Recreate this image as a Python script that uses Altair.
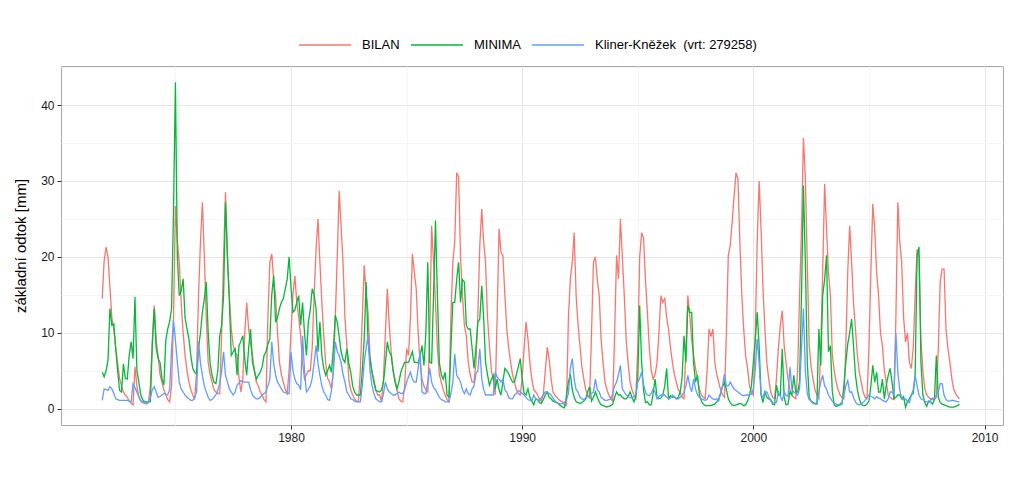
import altair as alt
import pandas as pd

# first month of the series: November 1971 (hydrological year start)
START_YEAR = 1971
START_MONTH = 11

SERIES = ["BILAN", "MINIMA", "Kliner-Kněžek\u00a0 (vrt: 279258)"]
COLORS = ["#F8766D", "#00BA38", "#619CFF"]

bilan = [
    14.5, 19.5, 21.3, 20, 16, 12, 10.5, 8, 6, 4, 3, 2.2,
    1.8, 1.5, 1, 0.7, 0.5, 5.5, 3, 1.5, 1, 0.8, 0.7, 0.6,
    0.8, 3, 9, 13.6, 9, 7, 4.5, 3.5, 2.5, 1.8, 1.2, 0.9,
    3, 12, 26.7, 22, 19.3, 14, 10, 7, 5, 3.5, 2.5, 1.8,
    1.2, 5, 15, 22, 27.2, 20, 12, 6.1, 4.5, 3.5, 2.5, 2.2,
    2, 2, 10, 20, 28.5, 20, 14.9, 10.5, 8.3, 7.5, 7, 4,
    2.2, 4, 10, 14, 10.5, 8.5, 7, 5, 3.5, 3, 2.2, 1.8,
    1.2, 0.9, 12, 19.3, 20.4, 17, 14.9, 10, 6.1, 4.5, 3.5, 2.5,
    2, 5, 10, 15, 17.5, 14, 12, 9.6, 6, 3.9, 4.5, 5,
    5, 8, 15, 21, 25, 19.3, 14, 9.6, 6, 4, 3.5, 2.6,
    5, 12, 20, 28.7, 24, 19.3, 12, 8.3, 3.9, 2.5, 1.8, 1.3,
    1, 0.9, 5, 12, 18.9, 15, 12.7, 7, 5, 3.9, 2.5, 1.8,
    1.8, 0.9, 4, 10, 15.8, 11, 7.5, 5, 3.9, 2.5, 1.3, 1,
    0.9, 3, 7.9, 7, 12, 20.4, 18, 15.8, 10, 6, 3.9, 3,
    2.5, 2.2, 10, 24.1, 19.3, 14, 8, 4.5, 3.5, 2.5, 1.8, 1.2,
    0.9, 12, 19.3, 22, 31.1, 30.5, 20, 14.9, 11, 9.6, 6.1, 4.5,
    3.5, 3.5, 6, 12.3, 21.5, 26.3, 22, 19.3, 12, 8.3, 5, 3.9,
    1.8, 12, 23.7, 20.6, 20.2, 15, 10.5, 8, 6.1, 4.5, 3.5, 2.5,
    2, 1.8, 4, 8, 11.4, 9.2, 6, 3.9, 2.5, 2.2, 1.8, 1.3,
    1, 2, 5, 8.1, 6.5, 4, 2.2, 1.8, 1.5, 1.2, 1, 0.9,
    0.5, 0.4, 12, 17.1, 19.3, 23.2, 14.9, 11, 8.3, 5.5, 3.9, 2.5,
    1.8, 1.3, 10, 19.3, 20, 17, 14.9, 9, 6, 3.5, 2.5, 1.8,
    1.3, 1, 10, 20.2, 17.1, 25, 20, 14.9, 9, 6, 3.5, 2.5,
    1.8, 1.3, 8, 20, 23.2, 22.5, 17, 12.7, 8, 5, 3.9, 4.5,
    6.1, 10, 14.9, 14, 14.5, 12, 10.5, 8, 6.1, 4.5, 3.5, 2.5,
    2.2, 1.5, 1.3, 8, 14.9, 12.3, 9, 7, 5.3, 4, 2.6, 1.8,
    1.5, 1.3, 5, 10.5, 9.5, 10.5, 6.1, 4.5, 3.5, 2.5, 1.8, 1.5,
    10, 20.2, 21.5, 24.6, 28, 31.1, 30.3, 22, 15, 10.5, 7, 5.3,
    3, 2.2, 1.8, 10, 22, 30, 23.7, 16, 10.5, 6, 3.9, 2.2,
    1.5, 1.3, 4, 8, 11, 12.9, 8.3, 6, 3.9, 2.5, 1.8, 1.5,
    1.3, 5, 15, 23.7, 35.7, 30.3, 19.3, 8.3, 5.5, 3.9, 2.5, 1.8,
    1.3, 8, 18, 29.6, 23.7, 18, 14.9, 7, 5, 3.5, 2.5, 1.8,
    1.5, 1.3, 8, 18, 24.1, 19.3, 14, 10.5, 7, 4.8, 3.5, 2.2,
    1.5, 1.3, 8, 18, 27, 23.7, 18, 14.9, 10, 8.3, 5, 3.5,
    1.8, 1.5, 1.3, 1.2, 12, 27.2, 22, 19.3, 12, 8.8, 10, 6.1,
    5.3, 8, 15, 21, 20, 9, 5, 2.6, 1.8, 1.5, 1.3, 1.2,
    1.2, 1.5, 8, 16.7, 18.4, 18.4, 10.5, 8, 6.1, 4, 2.6, 2,
    1.6, 1.3,
]

minima = [
    4.8, 4.2, 5, 6.4, 13.2, 11, 11.2, 7.9, 5, 2.4, 2.2, 5.9,
    4, 3.9, 7, 8.8, 6.6, 14.7, 5, 3.5, 1.8, 1.2, 0.9, 0.9,
    0.9, 0.9, 8.3, 13.2, 8, 6.6, 6.1, 4, 3.1, 9, 10.5, 11.5,
    13.2, 25.9, 43, 20, 14.9, 15.5, 17.1, 12, 10.5, 9.2, 7, 5.3,
    4.8, 4.6, 8, 10, 12.7, 14.5, 16.7, 10, 6, 4.4, 3.5, 3.3,
    5, 9.6, 11, 14.9, 27.2, 20, 14, 7, 7.5, 7.9, 4.4, 8.3,
    8.9, 9.6, 6.5, 4.4, 8, 10.5, 6.1, 5, 3.9, 4.4, 4.8, 5.5,
    7, 7.5, 8.5, 9.2, 15, 17.5, 11.4, 12, 13.2, 14, 14.5, 15.8,
    17, 20, 16, 12.7, 13, 14, 14.9, 11, 14, 10, 7, 11.4,
    13, 15.8, 15, 13.2, 7.5, 11.4, 7, 5.3, 4.4, 5, 5.7, 4.8,
    8, 12.3, 11.4, 9.5, 7.5, 6.5, 6.1, 7.9, 6, 4.8, 3, 2.2,
    1.8, 1.8, 1.8, 5, 9.2, 16.7, 8.8, 6.5, 4.8, 3.5, 2.4, 2.3,
    2.2, 2.5, 3.5, 6, 8.8, 7.5, 7, 5, 3.5, 2.6, 3.5, 4.8,
    5.5, 6.1, 6.1, 6.1, 6.8, 7.5, 6.1, 6.1, 6, 7, 8.3, 5.7,
    10, 19.3, 6.1, 6, 15, 24.8, 14.9, 6.1, 4.5, 3.9, 4.8, 1.8,
    1.5, 8, 14, 14, 17, 19.3, 14, 17, 16.7, 11, 10.5, 10.5,
    8, 5.3, 8, 11.4, 11.8, 16.2, 12, 6.1, 4.5, 3.1, 3.8, 4.4,
    2.6, 3.9, 2.5, 1.8, 3.5, 5.3, 5, 4.6, 4, 3.5, 3.5, 4.5,
    5.5, 6.6, 4, 2, 1.8, 2.6, 1.5, 1, 0.5, 1.3, 1.2, 0.8,
    0.7, 1.2, 1.8, 2.2, 1.5, 1.3, 1, 0.9, 0.8, 0.6, 0.4, 0.2,
    0.1, 1.8, 3.5, 4.6, 2.5, 1.5, 0.9, 0.8, 0.7, 0.8, 1, 1.3,
    2.2, 2.9, 1, 1.5, 2.2, 1.5, 0.9, 0.5, 0.4, 0.3, 0.2, 0.3,
    0.4, 0.6, 1.5, 2.2, 1.8, 1.8, 1.5, 1.3, 1.3, 1.6, 2.2, 1.5,
    0.9, 1.6, 4, 13.6, 6.1, 2.5, 0.8, 0.9, 0.5, 0.5, 2, 3.9,
    1.5, 1.3, 1.4, 1.8, 3, 5.3, 1.3, 1.7, 1.5, 1.6, 1.3, 1.5,
    2.2, 4, 9.6, 6.1, 13.6, 12.7, 12.7, 6, 3.5, 4.4, 1.8, 1,
    0.6, 0.4, 0.4, 0.4, 0.4, 0.5, 0.6, 0.9, 1.3, 2, 2.9, 3.5,
    2.5, 1.3, 0.8, 0.5, 0.4, 0.5, 0.6, 0.7, 0.6, 0.4, 0.5, 1,
    1.8, 3, 6.1, 9, 12.7, 8.3, 1.8, 0.8, 2.2, 1.5, 1.3, 1.2,
    0.6, 0.5, 3.1, 1.8, 1.8, 7.9, 1.5, 0.5, 0.6, 2.2, 1.8, 4.4,
    2.2, 2.2, 3.5, 14.9, 29.4, 19.3, 6.1, 1.5, 1, 0.8, 0.7, 0.6,
    10.5, 5.7, 14.9, 17, 20.2, 7.5, 8.3, 2.2, 0.5, 0.3, 0.4, 0.5,
    0.6, 3, 6.1, 8.5, 10, 11.8, 8.3, 4.4, 2.5, 1.3, 0.6, 0.4,
    0.4, 0.6, 1, 3, 5.7, 3.5, 4.8, 2.2, 2.2, 3.9, 1.3, 3.1,
    4.4, 5.3, 3.5, 1.3, 1.5, 1.8, 1.8, 1.3, 1.6, 0.2, 0.9, 1.3,
    1.8, 2, 4.4, 20.2, 21.3, 6.1, 1.8, 0.8, 0.3, 1, 0.9, 0.6,
    1.2, 7, 1.5, 0.8, 0.6, 0.5, 0.4, 0.3, 0.2, 0.2, 0.2, 0.3,
    0.4, 0.6,
]

kliner = [
    1.1, 2.6, 2.5, 2.4, 2.9, 2.6, 2, 1.3, 1.2, 1.1, 1.1, 1.1,
    1.1, 1.1, 1, 0.9, 3.3, 2.8, 2.2, 1.6, 1.1, 0.9, 0.7, 0.8,
    0.9, 1.5, 2.5, 2.9, 2.2, 1.5, 1.6, 1.8, 2, 1.9, 1.8, 2.5,
    7.9, 11.6, 9, 6.1, 3.5, 2.6, 2.2, 1.8, 1.5, 1.3, 1.1, 1.1,
    1.5, 2.2, 8.8, 6, 4.4, 3, 2.2, 1.5, 1.1, 1.2, 1.5, 1.8,
    2.5, 3.3, 5, 7.5, 4.4, 3.5, 2.6, 2.2, 1.8, 2.2, 3.1, 3.4,
    3.7, 3.6, 3.5, 3.5, 3.5, 2.5, 1.8, 1.5, 1.3, 1.3, 1.5, 1.8,
    2, 2.2, 3, 3.9, 8.8, 6, 4.4, 3.5, 3.1, 2.6, 2.2, 2.1,
    2, 2, 7.5, 5, 3.9, 3.3, 3.1, 2.5, 9.6, 5, 2.2, 2.5,
    3, 4, 6, 8.3, 6, 4.4, 3, 2.2, 1.8, 1.2, 1.1, 2.4,
    5, 8.8, 7.5, 7, 6.1, 4.5, 3.5, 2.2, 1.8, 1.3, 1.2, 1,
    0.9, 0.9, 0.9, 3, 6.1, 8, 9.6, 5, 3.1, 2, 1.3, 1.1,
    0.9, 0.9, 2, 3.5, 2.6, 2.2, 2, 1.8, 1.8, 2, 2.2, 2,
    2, 2.5, 3.5, 4.2, 4.8, 3.9, 3.5, 3.5, 5.3, 7.5, 2.2, 2,
    2, 3.5, 5.3, 3.5, 2.8, 2.5, 2, 1.5, 1.2, 1.1, 0.9, 0.9,
    0.9, 2, 3.5, 7.2, 4.4, 4, 3.5, 2.5, 2, 2.6, 2, 1.8,
    2.6, 3, 4.6, 5, 7.9, 4, 2.5, 1.8, 1.8, 1.8, 1.8, 1.8,
    4.8, 4.2, 3.9, 3.5, 3.9, 2.5, 2.2, 1.5, 1.3, 1.3, 1.8, 2,
    2.4, 2.2, 2, 1.8, 1.5, 1.2, 1.1, 1, 1.8, 1.3, 1.2, 1.1,
    1.5, 1.8, 2.2, 2.2, 2, 1.8, 1.4, 1, 0.8, 0.7, 0.6, 0.7,
    0.8, 1.2, 2, 5.3, 6.6, 3.9, 2.5, 2.2, 1.5, 1.3, 1.2, 1.4,
    1.6, 1.8, 2, 2.2, 3.9, 2.5, 2.2, 1.5, 1.3, 1.1, 1.1, 1.2,
    1.3, 2, 3, 3.5, 4.5, 5.7, 2.6, 2.2, 1.8, 1.6, 1.5, 1.4,
    1.6, 1.8, 3.5, 4, 4.8, 3.2, 2.2, 1.8, 1.7, 2, 2.6, 2.2,
    1.3, 1.6, 1.8, 1.8, 1.8, 1.5, 1.3, 1.4, 1.8, 1.5, 1.3, 1.3,
    1.5, 1.8, 2.2, 3, 4.4, 3, 2.2, 3.9, 2.6, 1.8, 1.5, 1.3,
    1.2, 1.1, 1.2, 1.8, 1.5, 1.3, 1.2, 1.3, 1, 2, 3, 4.6,
    3, 3, 3.5, 3, 2.6, 2.4, 2.2, 2, 1.8, 1.7, 1.8, 1.8,
    1.8, 1.9, 2.6, 5, 9.2, 6.1, 1.8, 1.5, 2.2, 2.2, 1.6, 1,
    0.8, 0.7, 0.8, 2.2, 1.6, 1.1, 2.2, 1.8, 1.6, 5.5, 2.6, 2.2,
    2, 1.8, 2.6, 8, 13.2, 5, 2, 1.2, 1, 0.7, 0.6, 0.6,
    2.2, 3.5, 4.4, 3, 2.6, 1.8, 1.4, 1, 0.7, 0.6, 0.5, 0.6,
    0.9, 1.8, 3, 3.7, 2.2, 2.2, 1.5, 0.9, 0.6, 0.5, 0.6, 0.8,
    1.1, 1.5, 1.8, 1.6, 1.5, 1.3, 1.6, 1.4, 1.3, 1.1, 1, 0.9,
    1.3, 2.2, 2.2, 1.8, 10, 4.8, 2.5, 1.3, 1.2, 1.3, 0.9, 0.8,
    1.8, 2.5, 4.4, 3, 1.8, 1.3, 1.2, 1, 0.9, 0.8, 1.2, 1.4,
    1.3, 1.8, 2.2, 3.3, 3.3, 1.8, 1.2, 1, 1, 1.1, 1.1, 1,
    0.9, 0.9,
]

X_TICKS = [1975, 1980, 1985, 1990, 1995, 2000, 2005, 2010]
Y_TICKS = [0, 5, 10, 15, 20, 25, 30, 35, 40, 45]


def frame(values, name):
    t0 = START_YEAR + (START_MONTH - 1) / 12
    return pd.DataFrame({
        "t": [t0 + k / 12 for k in range(len(values))],
        "v": values,
        "s": name,
    })


major_test = "datum.value % 10 == 0"
grid_col = {"condition": {"test": major_test, "value": "#e6e6e6"}, "value": "#f5f5f5"}
tick_col = {"condition": {"test": major_test, "value": "#333333"}, "value": "transparent"}

x_enc = alt.X(
    "t:Q",
    scale=alt.Scale(domain=[1970.05, 2010.8], nice=False, zero=False),
    axis=alt.Axis(
        values=X_TICKS, title=None, format="d",
        labelExpr="datum.value % 10 == 0 ? datum.label : ''",
        gridColor=grid_col, tickColor=tick_col,
    ),
)
y_enc = alt.Y(
    "v:Q",
    scale=alt.Scale(domain=[-2.15, 45.15], nice=False, zero=False),
    axis=alt.Axis(
        values=Y_TICKS, title="základní odtok [mm]",
        labelExpr="datum.value % 10 == 0 ? datum.label : ''",
        gridColor=grid_col, tickColor=tick_col,
    ),
)
color_enc = alt.Color(
    "s:N",
    scale=alt.Scale(domain=SERIES, range=COLORS),
    legend=alt.Legend(
        title=None, orient="none", direction="horizontal",
        legendX=237, legendY=-48,
        symbolType="stroke", symbolSize=2704, symbolStrokeWidth=1.3,
        labelOffset=10, columnPadding=8, labelLimit=400,
        labelFontSize=13, labelFont="Liberation Sans", labelColor="#000000",
    ),
)

layers = []
for vals, name in [(bilan, SERIES[0]), (minima, SERIES[1]), (kliner, SERIES[2])]:
    layers.append(
        alt.Chart(frame(vals, name))
        .mark_line(strokeWidth=1.3, clip=True)
        .encode(x=x_enc, y=y_enc, color=color_enc)
    )

chart = (
    alt.layer(*layers)
    .properties(
        width=942, height=359,
        autosize=alt.AutoSizeParams(type="none"),
        padding={"left": 61, "top": 66, "right": 21, "bottom": 56},
        background="white",
    )
    .configure_view(stroke="#a8a8a8", strokeWidth=1)
    .configure_axis(
        domain=False, tickSize=4, tickWidth=1,
        labelFont="Liberation Sans", labelFontSize=12, labelColor="#1a1a1a",
        titleFont="Liberation Sans", titleFontSize=15, titleFontWeight="normal",
        titleColor="#000000", labelPadding=3,
    )
    .configure_axisY(titlePadding=12)
)

chart.save("out.html", embed_options={"renderer": "svg", "actions": False})
